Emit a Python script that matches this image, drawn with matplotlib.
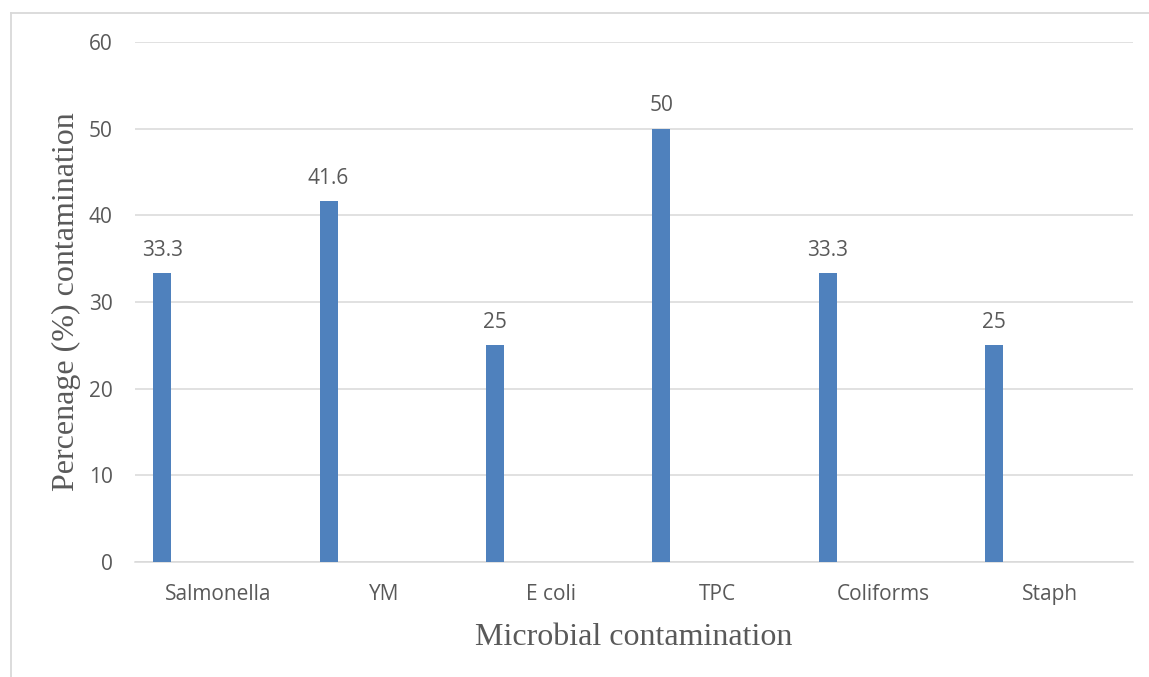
import numpy as np
import matplotlib
matplotlib.use("Agg")
import matplotlib.pyplot as plt
from matplotlib.lines import Line2D

categories = ["Salmonella", "YM", "E coli", "TPC", "Coliforms", "Staph"]
percent = [33.3, 41.6, 25, 50, 33.3, 25]
value_labels = ["33.3", "41.6", "25", "50", "33.3", "25"]
yticks = [0, 10, 20, 30, 40, 50, 60]

grey = "#595959"
plt.rcParams['font.family'] = ['Open Sans', 'DejaVu Sans']

fig = plt.figure(figsize=(11.49, 6.77), dpi=100)
ax = fig.add_axes([0.1175, 0.1699, 0.8685, 0.7681])

x = np.arange(len(categories))
# bar sits to the left of each category slot
bars = ax.bar(x - 0.336, percent, width=0.108, color="#4f81bd", zorder=3)

for b, lab in zip(bars, value_labels):
    ax.annotate(lab, (b.get_x() + b.get_width() / 2, b.get_height()),
                xytext=(0, 9), textcoords="offset points",
                ha="center", va="bottom", fontsize=15, color=grey)

ax.set_xlim(-0.5, len(categories) - 0.5)
ax.set_ylim(0, 60)
ax.set_yticks(yticks)
ax.set_xticks(x)
ax.set_xticklabels(categories)
ax.tick_params(axis="both", length=0, labelsize=15, labelcolor=grey)
ax.tick_params(axis="y", pad=16)
ax.tick_params(axis="x", pad=16)
ax.yaxis.grid(True, color="#d9d9d9", linewidth=1.1, zorder=0)
for s in ["top", "right", "left"]:
    ax.spines[s].set_visible(False)
ax.spines["bottom"].set_color("#d9d9d9")
ax.spines["bottom"].set_linewidth(1.1)

ax.set_xlabel("Microbial contamination", family="Liberation Serif",
              fontsize=23, color=grey, labelpad=13)
ax.set_ylabel("Percenage (%) contamination", family="Liberation Serif",
              fontsize=23, color=grey, labelpad=6)

# chart-area frame
fy = 1 - 12.5 / 677
fx = 10.5 / 1149
fig.add_artist(Line2D([fx, 1], [fy, fy], transform=fig.transFigure,
                      color="#d9d9d9", linewidth=1.3))
fig.add_artist(Line2D([fx, fx], [0, fy], transform=fig.transFigure,
                      color="#d9d9d9", linewidth=1.3))

fig.savefig("out.png", dpi=100)
